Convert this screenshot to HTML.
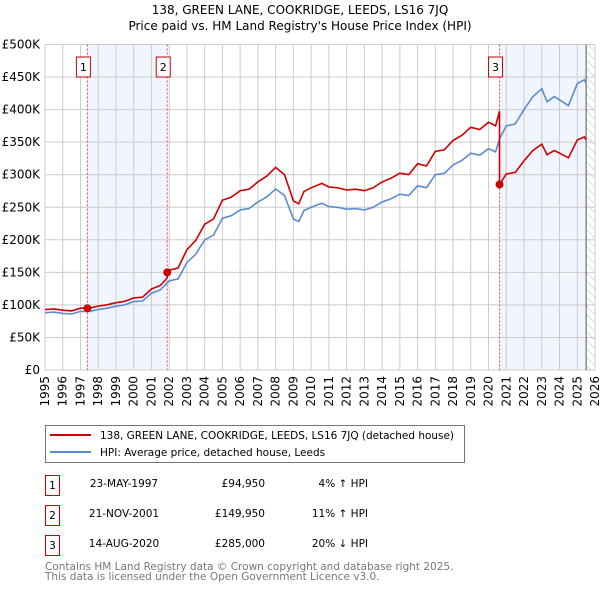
<!DOCTYPE html>
<html><head><meta charset="utf-8"><style>
body{margin:0;background:#fff;font-family:"DejaVu Sans","Liberation Sans",sans-serif;}
svg text{font-family:"DejaVu Sans","Liberation Sans",sans-serif;}
</style></head><body>
<svg id="c" width="600" height="590" viewBox="0 0 600 590" xmlns="http://www.w3.org/2000/svg">
<defs><pattern id="hatch" width="6" height="6" patternUnits="userSpaceOnUse" patternTransform="rotate(-45)"><line x1="0" y1="0" x2="0" y2="6" stroke="#bbb" stroke-width="1"/></pattern></defs>
<text x="300" y="14" text-anchor="middle" font-size="12" fill="#000">138, GREEN LANE, COOKRIDGE, LEEDS, LS16 7JQ</text>
<text x="300" y="30" text-anchor="middle" font-size="12" fill="#000">Price paid vs. HM Land Registry's House Price Index (HPI)</text>
<g id="plot"></g>
<g>
<rect x="45.5" y="425.5" width="419" height="37" fill="#fff" stroke="#777"/>
<line x1="50" y1="435" x2="91" y2="435" stroke="#cc0000" stroke-width="2"/>
<text x="100" y="439" font-size="10.5" textLength="354">138, GREEN LANE, COOKRIDGE, LEEDS, LS16 7JQ (detached house)</text>
<line x1="50" y1="452" x2="91" y2="452" stroke="#5b8bd0" stroke-width="2"/>
<text x="100" y="456" font-size="10.5">HPI: Average price, detached house, Leeds</text>
</g>
<g font-size="10.5">
<rect x="45.5" y="475.5" width="14" height="20" fill="none" stroke="#cc0000"/>
<text x="52.5" y="489" text-anchor="middle">1</text>
<text x="124" y="487" text-anchor="middle">23-MAY-1997</text>
<text x="265" y="487" text-anchor="end">£94,950</text>
<text x="368" y="487" text-anchor="end">4% ↑ HPI</text>
<rect x="45.5" y="505.5" width="14" height="20" fill="none" stroke="#cc0000"/>
<text x="52.5" y="519" text-anchor="middle">2</text>
<text x="124" y="517" text-anchor="middle">21-NOV-2001</text>
<text x="265" y="517" text-anchor="end">£149,950</text>
<text x="368" y="517" text-anchor="end">11% ↑ HPI</text>
<rect x="45.5" y="535.5" width="14" height="20" fill="none" stroke="#cc0000"/>
<text x="52.5" y="549" text-anchor="middle">3</text>
<text x="124" y="547" text-anchor="middle">14-AUG-2020</text>
<text x="265" y="547" text-anchor="end">£285,000</text>
<text x="368" y="547" text-anchor="end">20% ↓ HPI</text>
</g>
<text x="45" y="570" font-size="10.5" fill="#777">Contains HM Land Registry data © Crown copyright and database right 2025.</text>
<text x="45" y="580" font-size="10.5" fill="#777">This data is licensed under the Open Government Licence v3.0.</text>
</svg>
<script>
const hpiYears=[1995,1995.5,1996,1996.5,1997,1997.5,1998,1998.5,1999,1999.5,2000,2000.5,2001,2001.5,2002,2002.5,2003,2003.5,2004,2004.5,2005,2005.5,2006,2006.5,2007,2007.5,2008,2008.5,2009,2009.3,2009.6,2010,2010.6,2011,2011.5,2012,2012.5,2013,2013.5,2014,2014.5,2015,2015.5,2016,2016.5,2017,2017.5,2018,2018.5,2019,2019.5,2020,2020.4,2020.62,2021,2021.5,2022,2022.5,2023,2023.3,2023.7,2024,2024.5,2025,2025.4,2025.5];
const hpiValues=[88,89,87,86,90,90,93,95,98,100,105,106,118,123,137,140,165,178,200,207,233,237,246,248,258,266,278,268,232,228,245,250,256,251,250,247,248,246,250,258,263,270,268,283,280,300,302,315,322,333,330,340,335,355,375,378,400,420,432,412,420,415,406,440,446,440];
const saleYears=[1997.39,2001.89,2020.62];
const salePrices=[94.95,149.95,285];
const saleLabels=["1","2","3"];
const yTicks=[0,50,100,150,200,250,300,350,400,450,500];
const yTickLabels=["£0","£50K","£100K","£150K","£200K","£250K","£300K","£350K","£400K","£450K","£500K"];
const xTicks=[1995,1996,1997,1998,1999,2000,2001,2002,2003,2004,2005,2006,2007,2008,2009,2010,2011,2012,2013,2014,2015,2016,2017,2018,2019,2020,2021,2022,2023,2024,2025,2026];

const L=45,R=595,T=44.5,B=370,X0=1995,X1=2026,YM=500;
const xs=y=>L+(y-X0)/(X1-X0)*(R-L);
const ys=v=>B-v/YM*(B-T);
const NS="http://www.w3.org/2000/svg";
const g=document.getElementById('plot');
function mk(t,a,p){const e=document.createElementNS(NS,t);for(const k in a)e.setAttribute(k,a[k]);(p||g).appendChild(e);return e;}
function hpiAt(t){for(let i=0;i<hpiYears.length-1;i++){if(t<=hpiYears[i+1]){const f=(t-hpiYears[i])/(hpiYears[i+1]-hpiYears[i]);return hpiValues[i]+f*(hpiValues[i+1]-hpiValues[i]);}}return hpiValues[hpiValues.length-1];}
let e=mk('rect',{x:xs(saleYears[0]),y:T,width:xs(saleYears[1])-xs(saleYears[0]),height:B-T,fill:'#eef3fc',opacity:0.8});


e=mk('rect',{x:xs(saleYears[2]),y:T,width:xs(2025.5)-xs(saleYears[2]),height:B-T,fill:'#eef3fc',opacity:0.8});


e=mk('rect',{x:xs(2025.5),y:T,width:R-xs(2025.5),height:B-T,fill:'url(#hatch)'});


xTicks.forEach((t,i)=>{
 const l=mk('line',{x1:xs(t),x2:xs(t),y1:T,y2:B,stroke:'#cccccc','stroke-width':1});
 
 
 const tx=mk('text',{x:0,y:0,'font-size':12,'text-anchor':'end',transform:`translate(${xs(t)+4},${B+6}) rotate(-90)`});
 tx.textContent=t;
 
 
});
yTicks.forEach((v,i)=>{
 const l=mk('line',{x1:L,x2:R,y1:ys(v),y2:ys(v),stroke:'#cccccc','stroke-width':1});
 
 
 const tx=mk('text',{x:L-5,y:ys(v)+4,'font-size':12,'text-anchor':'end'});
 tx.textContent=yTickLabels[i];
 
 
});
e=mk('line',{x1:xs(2025.5),x2:xs(2025.5),y1:T,y2:B,stroke:'#555','stroke-width':1});


saleYears.forEach((t,i)=>{
 const l=mk('line',{x1:xs(t),x2:xs(t),y1:T,y2:B,stroke:'#ee4444','stroke-width':1,'stroke-dasharray':'2,2'});
 
 
 const r=mk('rect',{x:xs(t)-11,y:57,width:14,height:20,fill:'#fff',stroke:'#cc0000'});
 
 
 const tx=mk('text',{x:xs(t)-4,y:71,'font-size':11,'text-anchor':'middle'});
 tx.textContent=saleLabels[i];
 
 
});
let d=hpiYears.map((t,i)=>(i?'L':'M')+xs(t).toFixed(1)+','+ys(hpiValues[i]).toFixed(1)).join('');
e=mk('path',{d:d,fill:'none',stroke:'#5b8bd0','stroke-width':1.6});


function seg(t){let k=0;for(let i=0;i<saleYears.length;i++)if(t>=saleYears[i])k=i;return k;}
let pts=[];
hpiYears.forEach((t,i)=>{
 for(let s=0;s<saleYears.length;s++){ if(i>0&&hpiYears[i-1]<saleYears[s]&&t>=saleYears[s]){
   const k=s-1<0?0:s-1; const hv=hpiAt(saleYears[s]);
   pts.push([saleYears[s],salePrices[k]*hv/hpiAt(saleYears[k])]);
   pts.push([saleYears[s],salePrices[s]]);}}
 const k=seg(t);pts.push([t,salePrices[k]*hpiValues[i]/hpiAt(saleYears[k])]);
});
d=pts.map((p,i)=>(i?'L':'M')+xs(p[0]).toFixed(1)+','+ys(p[1]).toFixed(1)).join('');
e=mk('path',{d:d,fill:'none',stroke:'#cc0000','stroke-width':1.6});


saleYears.forEach((t,i)=>{
 const c=mk('circle',{cx:xs(t),cy:ys(salePrices[i]),r:4,fill:'#cc0000'});
 
 
});
</script>
</body></html>
